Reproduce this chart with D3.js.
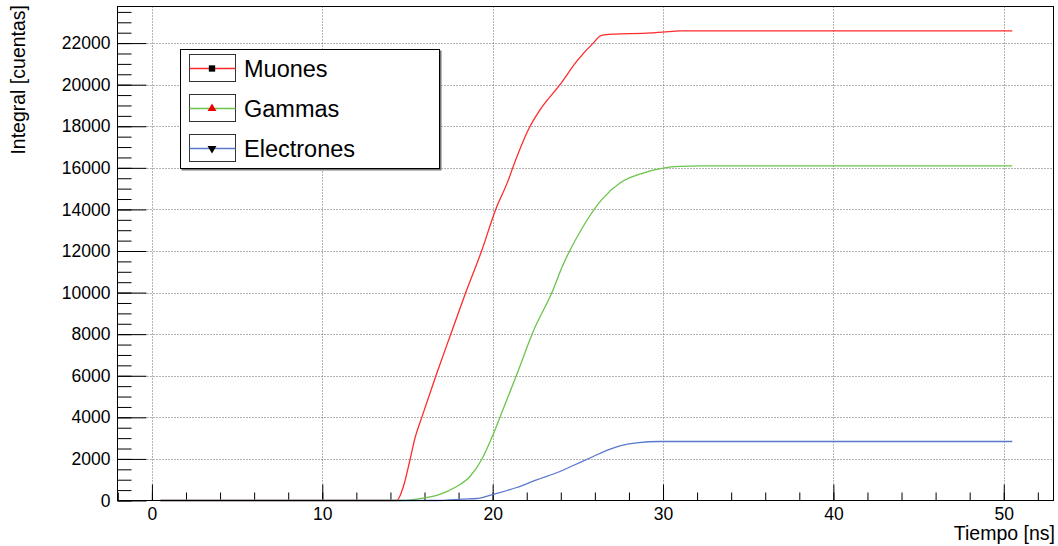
<!DOCTYPE html>
<html>
<head>
<meta charset="utf-8">
<script src="https://cdn.jsdelivr.net/npm/d3@7"></script>
<style>
  html, body { margin: 0; padding: 0; background: #fff; }
  svg { display: block; font-family: "Liberation Sans", Arial, Helvetica, sans-serif; }
</style>
</head>
<body>
<svg id="chart" width="1058" height="546"></svg>
<script>
'use strict';

// tiempo [ns] / integral [cuentas]
var muonesT = [0.5, 14.0, 14.37, 14.76, 15.15, 15.44, 15.84, 16.67, 17.54, 18.42, 19.35, 20.18, 20.92, 21.21, 22.19, 22.78, 23.95, 24.93, 25.9, 26.39, 27.07, 29.03, 30.0, 31.0, 50.5];
var muonesV = [0, 0, 0, 670, 1960, 3000, 4000, 6000, 8000, 10000, 12000, 14000, 15410, 16070, 17990, 18790, 20000, 21120, 22000, 22370, 22430, 22480, 22530, 22590, 22590];

var gammasT = [0.5, 14.66, 15.93, 16.81, 17.89, 18.67, 19.35, 19.94, 20.43, 21.41, 22.38, 23.55, 24.05, 25.31, 26.39, 27.47, 28.83, 30.0, 30.99, 32.16, 50.5];
var gammasV = [0, 0, 115, 274, 673, 1154, 1958, 3001, 4000, 6046, 8129, 10135, 11180, 13180, 14460, 15270, 15750, 15990, 16070, 16090, 16090];

var electronesT = [0.5, 16.9, 18.28, 19.06, 19.94, 21.41, 22.58, 23.95, 24.73, 25.9, 26.78, 27.47, 28.45, 29.81, 50.5];
var electronesV = [0, 0, 67, 96, 274, 625, 995, 1395, 1683, 2116, 2439, 2631, 2775, 2838, 2838];

var xMajorTicks = [0, 10, 20, 30, 40, 50];
var yMajorTicks = [0, 2000, 4000, 6000, 8000, 10000, 12000, 14000, 16000, 18000, 20000, 22000];

var seriesNames = ['Muones', 'Gammas', 'Electrones'];
var lineColors = ['#ff2a2a', '#6cc44c', '#5a78cc'];
var markerShapes = ['square', 'triangleUp', 'triangleDown'];
var markerColors = ['#000', '#e00', '#000'];

var frame = {left: 117.5, right: 1053.5, top: 6.5, bottom: 500.5};

var svg = d3.select('#chart');

var x = d3.scaleLinear().domain([-2.02, 52.92]).range([frame.left, frame.right]);
var y = d3.scaleLinear().domain([0, 23760]).range([frame.bottom, frame.top]);

// grid
var grid = svg.append('g').attr('class', 'grid');
grid.selectAll('line.gx').data(xMajorTicks).enter().append('line')
  .attr('x1', function(d) { return Math.round(x(d)) + 0.5; })
  .attr('x2', function(d) { return Math.round(x(d)) + 0.5; })
  .attr('y1', frame.top).attr('y2', frame.bottom)
  .attr('style', 'stroke:#666; stroke-width:1; stroke-dasharray:1,2');
grid.selectAll('line.gy').data(yMajorTicks.filter(function(d) { return d > 0; })).enter().append('line')
  .attr('y1', function(d) { return Math.round(y(d)) + 0.5; })
  .attr('y2', function(d) { return Math.round(y(d)) + 0.5; })
  .attr('x1', frame.left).attr('x2', frame.right)
  .attr('style', 'stroke:#666; stroke-width:1; stroke-dasharray:1,2');

// axes (ROOT style: ticks pointing inwards)
var xAxis = d3.axisBottom(x).tickValues(xMajorTicks).tickSize(-16).tickPadding(7).tickFormat(d3.format('d'));
var xMinor = d3.axisBottom(x).tickValues(d3.range(-2, 53, 2)).tickSize(-8).tickFormat('');
var yAxis = d3.axisLeft(y).tickValues(yMajorTicks).tickSize(-29).tickPadding(7).tickFormat(d3.format('d'));
var yMinor = d3.axisLeft(y).tickValues(d3.range(0, 23760, 500)).tickSize(-14).tickFormat('');

function styleAxis(g) {
  g.select('.domain').remove();
  g.selectAll('line').attr('stroke', '#000');
  g.selectAll('text').attr('font-size', '17.5px').attr('fill', '#000')
    .attr('font-family', '"Liberation Sans", Arial, sans-serif');
}

svg.append('g').attr('transform', 'translate(0,' + frame.bottom + ')').call(xMinor).call(styleAxis);
svg.append('g').attr('transform', 'translate(0,' + frame.bottom + ')').call(xAxis).call(styleAxis);
svg.append('g').attr('transform', 'translate(' + frame.left + ',0)').call(yMinor).call(styleAxis);
svg.append('g').attr('transform', 'translate(' + frame.left + ',0)').call(yAxis).call(styleAxis);

// curves
var series = [
  {t: muonesT, v: muonesV},
  {t: gammasT, v: gammasV},
  {t: electronesT, v: electronesV}
];
var line = d3.line().curve(d3.curveMonotoneX)
  .x(function(d) { return x(d[0]); }).y(function(d) { return y(d[1]); });
series.forEach(function(s, i) {
  var pts = s.t.map(function(t, j) { return [t, s.v[j]]; });
  svg.append('path').datum(pts)
    .attr('d', line)
    .attr('style', 'fill:none; stroke:' + lineColors[i] + '; stroke-width:1.3');
});

// frame
svg.append('rect')
  .attr('x', frame.left).attr('y', frame.top)
  .attr('width', frame.right - frame.left).attr('height', frame.bottom - frame.top)
  .attr('style', 'fill:none; stroke:#000; stroke-width:1');

// axis titles
svg.append('text').text('Tiempo [ns]')
  .attr('x', 1055).attr('y', 540).attr('text-anchor', 'end')
  .attr('font-size', '19.5px').attr('fill', '#000');
svg.append('text').text('Integral [cuentas]')
  .attr('transform', 'translate(25,5) rotate(-90)').attr('text-anchor', 'end')
  .attr('font-size', '19.5px').attr('fill', '#000');

// legend
var legend = svg.append('g').attr('class', 'legend');
legend.append('rect').attr('x', 181.5).attr('y', 50.5).attr('width', 260).attr('height', 120)
  .attr('style', 'fill:#777; stroke:none');
legend.append('rect').attr('x', 180.5).attr('y', 49.5).attr('width', 259).attr('height', 119)
  .attr('style', 'fill:#fff; stroke:#000; stroke-width:1');

var symbols = {square: d3.symbolSquare, triangleUp: d3.symbolTriangle, triangleDown: d3.symbolTriangle};
seriesNames.forEach(function(name, i) {
  var top = 54.5 + i * 40;
  var entry = legend.append('g');
  entry.append('rect').attr('x', 189.5).attr('y', top).attr('width', 46).attr('height', 27)
    .attr('style', 'fill:#fff; stroke:#333; stroke-width:1');
  entry.append('line').attr('x1', 189.5).attr('x2', 235.5).attr('y1', top + 14).attr('y2', top + 14)
    .attr('style', 'stroke:' + lineColors[i] + '; stroke-width:1.3');
  entry.append('path')
    .attr('d', d3.symbol().type(symbols[markerShapes[i]]).size(markerShapes[i] === 'square' ? 40 : 34))
    .attr('transform', 'translate(212,' + (top + 14) + ')' + (markerShapes[i] === 'triangleDown' ? ' rotate(180)' : ''))
    .attr('fill', markerColors[i]);
  entry.append('text').text(name)
    .attr('x', 244).attr('y', top + 22).attr('font-size', '23.5px').attr('fill', '#000');
});
</script>
</body>
</html>
